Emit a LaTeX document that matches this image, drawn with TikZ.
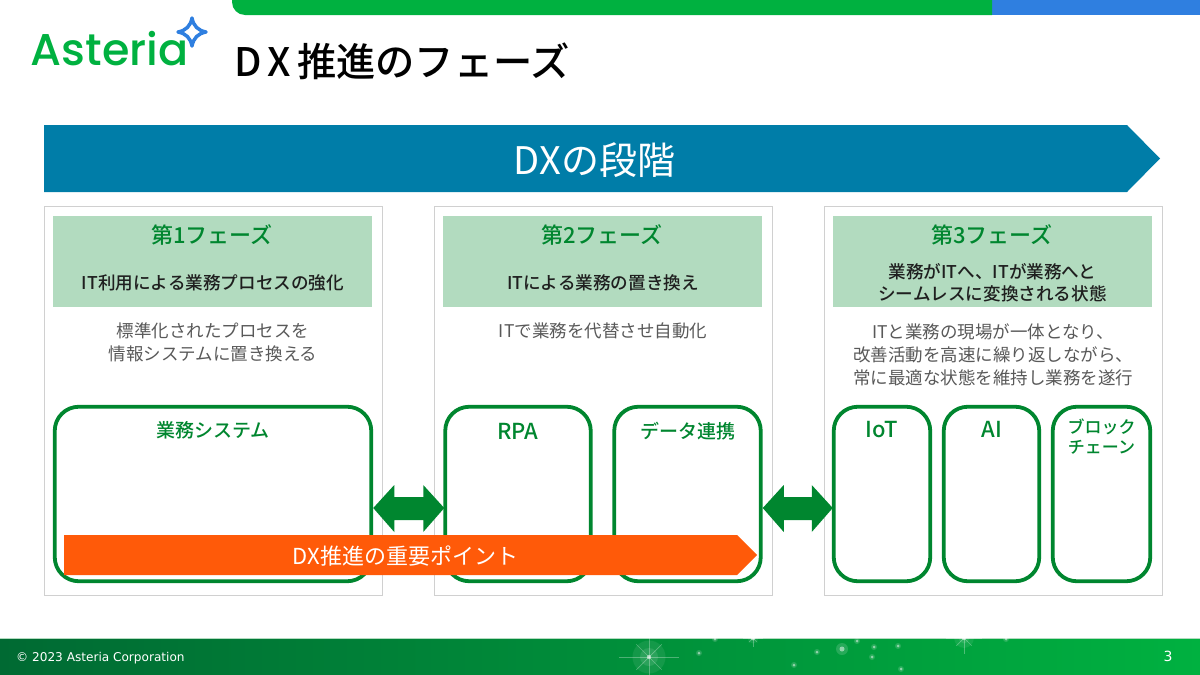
\documentclass[tikz,border=0pt]{standalone}
\usepackage{fontspec}
\setmainfont{Noto Sans CJK JP}
\newfontfamily\med{Noto Sans CJK JP Medium}
\newfontfamily\logofont{Poppins Medium}
\newfontfamily\footfont{DejaVu Sans}
\usetikzlibrary{calc}
\definecolor{agreen}{HTML}{00B140}
\definecolor{ablue}{HTML}{2F7FE0}
\definecolor{bannerblue}{HTML}{007DA8}
\definecolor{hdrgreen}{HTML}{B2DBBF}
\definecolor{dgreen}{HTML}{00862F}
\definecolor{footdark}{HTML}{006A33}
\definecolor{orangex}{HTML}{FF5A09}
\definecolor{panelgray}{HTML}{D0D0D0}
\definecolor{bodygray}{HTML}{595959}
\newcommand{\fs}[1]{\fontsize{#1pt}{#1pt}\selectfont}
\newcommand{\spark}[2]{\fill[white,opacity=.5] (#1,#2) circle (1.5pt);\fill[white,opacity=.15] (#1,#2) circle (3pt);}
\newcommand{\glint}[3]{%
  \fill[white,opacity=.08] (#1,#2) circle (#3*0.55pt);
  \fill[white,opacity=.10] (#1,#2) circle (#3*0.3pt);
  \foreach \a/\l in {0/1,90/.9,180/1,270/.9,45/.6,135/.6,225/.6,315/.6}{
    \draw[white,opacity=.3,line width=.7pt] (#1,#2) -- ++(\a:#3*\l pt);}
  \fill[white,opacity=.55] (#1,#2) circle (2.2pt);}
\newcommand{\dblarrow}[2]{%
  \fill[biarrow] let \p1=(#1.east),\p2=(#2.west) in
    (\x1+2pt,508) -- (\x1+23pt,485) -- (\x1+23pt,497) -- (\x2-22pt,497) -- (\x2-22pt,485)
    -- (\x2-1pt,508) -- (\x2-22pt,532) -- (\x2-22pt,520) -- (\x1+23pt,520) -- (\x1+23pt,532) -- cycle;}
\tikzset{
  x=1pt,y=-1pt,
  panel/.style={draw=panelgray,line width=1pt,fill=white,minimum width=338pt,minimum height=389pt,inner sep=0pt,outer sep=0pt},
  hdr/.style={fill=hdrgreen,minimum width=319pt,minimum height=91pt,inner sep=0pt,outer sep=0pt},
  tbox/.style={draw=dgreen,line width=3.8pt,fill=white,rounded corners=24pt,minimum height=174.5pt,inner sep=0pt,outer sep=0pt},
  phase/.style={text=dgreen,font=\med\fs{22},inner sep=0pt},
  sub/.style={text=black!88,font=\med\fs{17.6},align=center,inner sep=0pt},
  body/.style={text=bodygray,font=\fs{17.5},align=center,inner sep=0pt},
  boxlabel/.style={text=dgreen,font=\med\fs{19},align=center,inner sep=0pt},
  biarrow/.style={fill=dgreen},
}
\begin{document}
\begin{tikzpicture}
\useasboundingbox (0,0) rectangle (1200,675);
% top bar
\fill[ablue] (985,0) rectangle (1200,15);
\fill[agreen] (992,15) -- (992,0) -- (232,0) [rounded corners=13pt] -- (232,15) [sharp corners] -- (992,15) -- cycle;
% logo
\node[text=agreen,font=\logofont\fs{44.5},anchor=base west,inner sep=0pt] (logo) at (30.5,65) {Asteria};
\draw[ablue,line width=3.5pt,line join=round] (192,18) .. controls (193.5,26) and (198,30.5) .. (206,32)
  .. controls (198,33.5) and (193.5,38) .. (192,46) .. controls (190.5,38) and (186,33.5) .. (178,32)
  .. controls (186,30.5) and (190.5,26) .. (192,18) -- cycle;
% title
\node[font=\med\fs{39.3},anchor=base west,inner sep=0pt] (title) at (234,76) {D\hspace{6pt}X\hspace{6pt}推進のフェーズ};
% banner
\fill[bannerblue] (44,125) -- (1127,125) -- (1160,158.5) -- (1127,192) -- (44,192) -- cycle;
\node[text=white,font=\fs{38},inner sep=0pt] (bannertext) at (594.5,160) {DXの段階};
% panels
\node[panel] (p1) at (213,400.5) {};
\node[panel] (p2) at (603,400.5) {};
\node[panel] (p3) at (993,400.5) {};
\node[hdr] (h1) at (212.5,261.5) {};
\node[hdr] (h2) at (602.5,261.5) {};
\node[hdr] (h3) at (992.5,261.5) {};
\node[phase] (t1) at (212,235) {第1フェーズ};
\node[phase] (t2) at (602,235) {第2フェーズ};
\node[phase] (t3) at (992,235) {第3フェーズ};
\node[sub] (s1) at (213,283) {IT利用による業務プロセスの強化};
\node[sub] (s2) at (603,283) {ITによる業務の置き換え};
\node[sub] (s3) at (992.5,283) {業務がITへ、ITが業務へと\\[4.4pt]シームレスに変換される状態};
\node[body] (b1) at (213,342.5) {標準化されたプロセスを\\[5.5pt]情報システムに置き換える};
\node[body] (b2) at (603,331) {ITで業務を代替させ自動化};
\node[body] (b3) at (993,354.5) {ITと業務の現場が一体となり、\\[5.5pt]改善活動を高速に繰り返しながら、\\[5.5pt]常に最適な状態を維持し業務を遂行};
% tech boxes
\node[tbox,minimum width=316.5pt] (sys) at (213,494) {};
\node[tbox,minimum width=145.5pt] (rpa) at (518,494) {};
\node[tbox,minimum width=146.5pt] (data) at (687.5,494) {};
\node[tbox,minimum width=96.5pt] (iot) at (882,494) {};
\node[tbox,minimum width=95.5pt] (ai) at (991.5,494) {};
\node[tbox,minimum width=97.5pt] (bc) at (1101.5,494) {};
\node[boxlabel] (l1) at (213,430) {業務システム};
\node[boxlabel,font=\med\fs{22}] (l2) at (518,431) {RPA};
\node[boxlabel] (l3) at (687.5,431) {データ連携};
\node[boxlabel,font=\med\fs{22}] (l4) at (882,429.5) {IoT};
\node[boxlabel,font=\med\fs{22}] (l5) at (992,429.5) {AI};
\node[boxlabel,font=\med\fs{17}] (l6) at (1101.5,437) {ブロック\\[3pt]チェーン};
% double arrows
\dblarrow{sys}{rpa}
\dblarrow{data}{iot}
% orange arrow
\fill[orangex] (64,535) -- (737,535) -- (757,555) -- (737,575) -- (64,575) -- cycle;
\node[text=white,font=\fs{22},inner sep=0pt] (key) at (405.5,556) {DX推進の重要ポイント};
% footer
\shade[left color=footdark,middle color=dgreen!70!footdark,right color=agreen] (0,638) rectangle (1200,675);
\draw[hdrgreen,line width=.6pt] (0,638) -- (1200,638);
\begin{scope}
\clip (0,638.5) rectangle (1200,675);
\glint{649}{657}{30}
\glint{964}{638}{18}
\glint{753}{638}{10}
\spark{699}{653}\spark{817}{652}\spark{857}{641}\spark{898}{646}\spark{794}{665}\spark{901}{669}\spark{874}{647}\spark{872}{657}\spark{715}{639}\spark{1006}{639}
\fill[white,opacity=.15] (842,649) circle (6pt);
\fill[white,opacity=.5] (842,649) circle (2.5pt);
\end{scope}
\node[text=white,font=\footfont\fs{12.1},anchor=base west,inner sep=0pt] (copy) at (16,661) {© 2023 Asteria Corporation};
\node[text=white,font=\footfont\fs{14},inner sep=0pt] (page) at (1168,656) {3};
\end{tikzpicture}
\end{document}
